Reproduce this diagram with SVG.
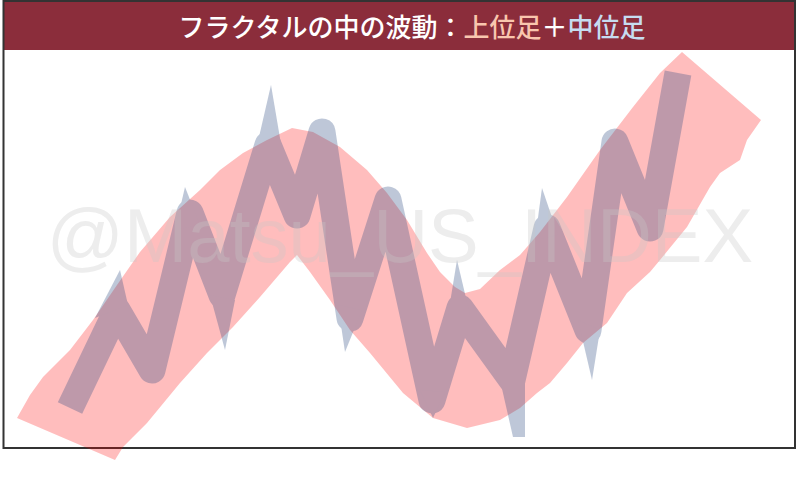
<svg xmlns="http://www.w3.org/2000/svg" width="800" height="477" viewBox="0 0 800 477">
<style>
.title{font-family:"Noto Sans CJK JP","Noto Sans",sans-serif;font-size:26px;font-weight:500;fill:#ffffff}
.wm{font-family:"Liberation Sans",Arial,sans-serif;font-size:76px;fill:#c8c8c8;opacity:0.32}
.band{fill:#ff0000;opacity:0.26}
.mid{stroke:#2a4a80;stroke-width:27;fill:none;stroke-linejoin:round;stroke-linecap:butt}
.spk{fill:#2a4a80}
</style>
<rect x="0" y="0" width="800" height="477" fill="#ffffff"/>
<g id="frame">
<rect x="3" y="1" width="792" height="49" fill="#8b2d3b"/>
<rect x="3.5" y="1" width="791.5" height="447" fill="none" stroke="#333333" stroke-width="2"/>
</g>
<g id="title">
<text class="title" x="412" y="37" text-anchor="middle">フラクタルの中の波動：<tspan fill="#f9c6ae">上位足</tspan>＋<tspan fill="#c6dcf0">中位足</tspan></text>
</g>
<g id="upper-band">
<path class="band" d="M17,418 L30,395 L43,377 L70,350 L93,320 L117,285 L140,252 L170,217 L200,190 L220,170 L243,153 L267,140 L292,128 L313,132 L340,147 L367,170 L387,193 L407,220 L427,253 L440,272 L455,287 L465,293 L480,289 L500,270 L520,255 L540,232 L567,197 L600,150 L633,107 L660,73 L682,52 L761,120 L747,140 L740,160 L720,173 L710,187 L687,227 L660,260 L650,272 L627,293 L607,323 L583,343 L567,363 L550,383 L537,393 L520,408 L500,420 L467,428 L433,418 L403,393 L370,353 L350,330 L330,300 L310,272 L297,255 L290,262 L260,297 L233,327 L207,353 L180,383 L147,423 L133,437 L123,447 L115,460 Z"/>
</g>
<g id="middle-wave" opacity="0.3">
<path class="mid" d="M70,408 L117,310 L152,370 L190,213 L222,295 L268,145 L297,215 L322,132 L350,318 L388,200 L432,400 L460,308 L512,380 L547,228 L588,330 L615,142 L650,228 L678,73"/>
<polygon class="spk" points="120,270 95,318 128,305"/>
<polygon class="spk" points="185,187 175,230 200,225"/>
<polygon class="spk" points="225,350 210,295 235,300"/>
<polygon class="spk" points="271,85 256,150 282,150"/>
<polygon class="spk" points="345,352 338,305 362,310"/>
<polygon class="spk" points="433,418 420,390 445,392"/>
<polygon class="spk" points="457,260 448,315 470,315"/>
<polygon class="spk" points="500,380 513,437 525,437 525,380"/>
<polygon class="spk" points="542,188 535,240 558,235"/>
<polygon class="spk" points="592,380 578,320 600,330"/>
</g>
<text class="wm" x="400" y="262" text-anchor="middle">@Matsu_US_INDEX</text>
</svg>
